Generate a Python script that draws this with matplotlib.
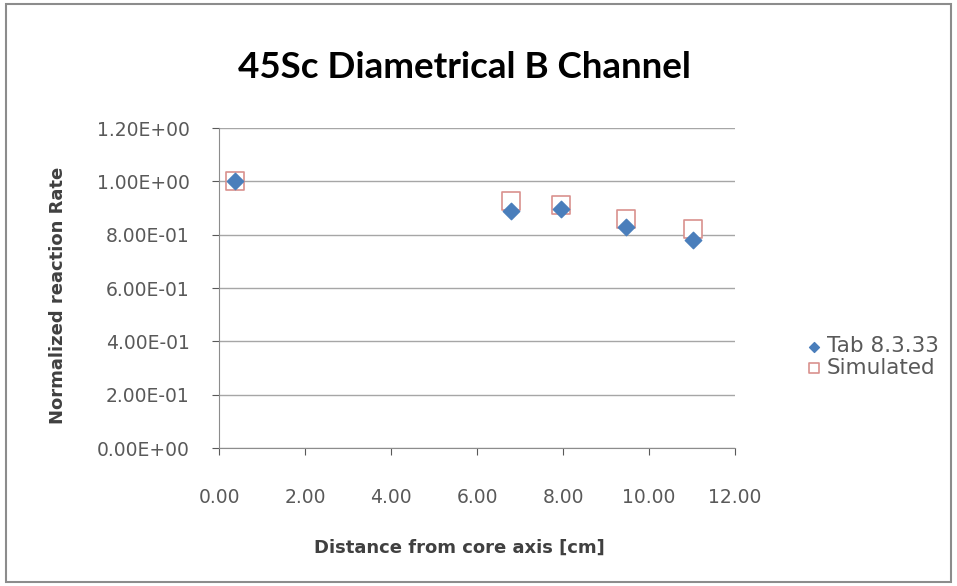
import matplotlib
matplotlib.use("Agg")
import matplotlib.pyplot as plt
from matplotlib.patches import Rectangle

plt.rcParams['font.family'] = ['DejaVu Sans']

distance = [0.37, 6.79, 7.95, 9.47, 11.02]
tab_values = [1.00, 0.89, 0.895, 0.83, 0.78]
sim_values = [1.00, 0.925, 0.91, 0.86, 0.82]
y_ticks = [0.0, 0.2, 0.4, 0.6, 0.8, 1.0, 1.2]
y_tick_labels = ["0.00E+00", "2.00E-01", "4.00E-01", "6.00E-01", "8.00E-01", "1.00E+00", "1.20E+00"]
x_ticks = [0, 2, 4, 6, 8, 10, 12]
x_tick_labels = ["0.00", "2.00", "4.00", "6.00", "8.00", "10.00", "12.00"]

W, H = 957, 586
fig = plt.figure(figsize=(W / 100, H / 100), dpi=100)
fig.patches.append(Rectangle((0.006, 0.006), 0.988, 0.988, transform=fig.transFigure,
                             fill=False, edgecolor='#8c8c8c', linewidth=1.5))
ax = fig.add_axes([219 / W, 1 - 448 / H, (735 - 219) / W, (448 - 128) / H])

ax.scatter(distance, sim_values, marker='s', s=150, facecolor='white',
           edgecolor='#d9918e', linewidth=1.2, label='Simulated', zorder=3)
ax.scatter(distance, tab_values, marker='D', s=70, color='#4a7ebb',
           label='Tab 8.3.33', zorder=4)

ax.set_xlim(0, 12)
ax.set_ylim(0, 1.2)
ax.set_yticks(y_ticks)
ax.set_yticklabels(y_tick_labels)
ax.set_xticks(x_ticks)
ax.set_xticklabels(x_tick_labels)
ax.tick_params(axis='both', labelsize=13.5, colors='#595959', length=5, direction='out')
ax.tick_params(axis='x', pad=24)
ax.tick_params(axis='y', pad=16)
ax.grid(axis='y', color='#a6a6a6', linewidth=1)
ax.set_axisbelow(True)
for s in ['top', 'right']:
    ax.spines[s].set_visible(False)
for s in ['left', 'bottom']:
    ax.spines[s].set_color('#8c8c8c')

fig.text(459 / W, 1 - 548 / H, 'Distance from core axis [cm]', ha='center', va='center',
         fontsize=13, fontweight='bold', color='#404040')
fig.text(58 / W, 1 - 295 / H, 'Normalized reaction Rate', ha='center', va='center',
         rotation=90, fontsize=13, fontweight='bold', color='#404040')
fig.text(464 / W, 1 - 68 / H, '45Sc Diametrical B Channel', ha='center', va='center',
         fontsize=26.5, fontweight='bold', color='black', family=['Lato', 'DejaVu Sans'])

handles, labels = ax.get_legend_handles_labels()
leg = fig.legend(handles[::-1], labels[::-1], loc='center left',
                 bbox_to_anchor=(802 / W, 1 - 357 / H),
                 frameon=False, fontsize=15.5, handletextpad=0.05, markerscale=0.6,
                 labelspacing=0.05, borderpad=0, borderaxespad=0, handlelength=1.1)
for t in leg.get_texts():
    t.set_color('#595959')

fig.savefig('out.png', dpi=100)
